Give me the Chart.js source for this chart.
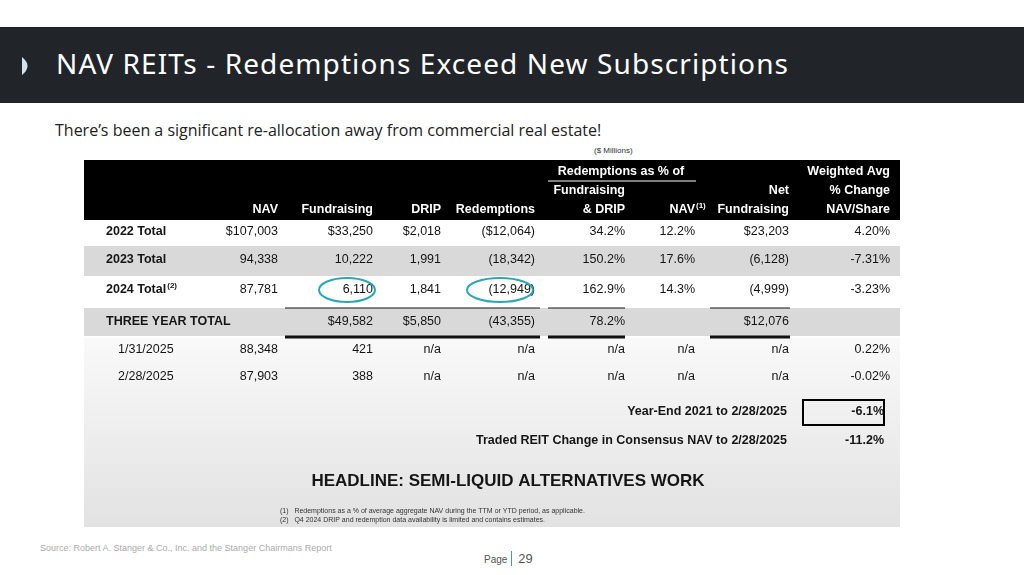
<!DOCTYPE html>
<html>
<head>
<meta charset="utf-8">
<script src="https://cdn.jsdelivr.net/npm/chart.js@4"></script>
<style>
  body { margin: 0; width: 1024px; height: 575px; background: #fff; position: relative; overflow: hidden; font-family: 'Open Sans', sans-serif; }
  #bar { position: absolute; left: 0; top: 27px; width: 1024px; height: 76px; background: #212529; }
  #title { position: absolute; left: 56px; top: 44px; color: #fff; font-size: 28px; font-family: 'Noto Sans', sans-serif; letter-spacing: 1.1px; }
  #sub { position: absolute; left: 55px; top: 119px; font-size: 16px; color: #222; }
  #mill { position: absolute; left: 594px; top: 146px; font-size: 8px; color: #333; font-family: 'Liberation Sans', sans-serif; }
  #wrap { position: absolute; left: 84px; top: 160px; width: 816px; height: 367px; }
  #src { position: absolute; left: 40px; top: 543px; font-size: 9px; color: #aaa; font-family: 'Liberation Sans', sans-serif; }
  #page { position: absolute; left: 484px; top: 551px; font-size: 10px; color: #555; font-family: 'Liberation Sans', sans-serif; }
  #page b { font-weight: normal; font-size: 13px; border-left: 1px solid #3a9fb0; padding-left: 6px; margin-left: 4px; }
</style>
</head>
<body>
<div id="bar"></div>
<svg style="position:absolute;left:21px;top:56px" width="12" height="20"><path d="M1 1 Q12 10 1 19 Z" fill="#cfe3f0"/></svg>
<div id="title">NAV REITs - Redemptions Exceed New Subscriptions</div>
<div id="sub">There’s been a significant re-allocation away from commercial real estate!</div>
<div id="mill">($ Millions)</div>
<div id="wrap"><canvas id="tbl" width="816" height="367"></canvas></div>
<div id="src">Source: Robert A. Stanger &amp; Co., Inc. and the Stanger Chairmans Report</div>
<div id="page">Page<b>29</b></div>
<script>
// table data
const rowLabels = ['2022 Total', '2023 Total', '2024 Total', 'THREE YEAR TOTAL', '1/31/2025', '2/28/2025'];
const nav = ['$107,003', '94,338', '87,781', '', '88,348', '87,903'];
const fundraising = ['$33,250', '10,222', '6,110', '$49,582', '421', '388'];
const drip = ['$2,018', '1,991', '1,841', '$5,850', 'n/a', 'n/a'];
const redemptions = ['($12,064)', '(18,342)', '(12,949)', '(43,355)', 'n/a', 'n/a'];
const redPctFundDrip = ['34.2%', '150.2%', '162.9%', '78.2%', 'n/a', 'n/a'];
const redPctNav = ['12.2%', '17.6%', '14.3%', '', 'n/a', 'n/a'];
const netFundraising = ['$23,203', '(6,128)', '(4,999)', '$12,076', 'n/a', 'n/a'];
const weightedAvg = ['4.20%', '-7.31%', '-3.23%', '', '0.22%', '-0.02%'];
const headers = [['', '', ''], ['', '', 'NAV'], ['', '', 'Fundraising'], ['', '', 'DRIP'], ['', '', 'Redemptions'],
  ['', 'Fundraising', '& DRIP'], ['', '', 'NAV'], ['', 'Net', 'Fundraising'], ['Weighted Avg', '% Change', 'NAV/Share']];
const summaryLabels = ['Year-End 2021 to 2/28/2025', 'Traded REIT Change in Consensus NAV to 2/28/2025'];
const summaryValues = ['-6.1%', '-11.2%'];
const headline = 'HEADLINE: SEMI-LIQUID ALTERNATIVES WORK';
const footnotes = ['(1)   Redemptions as a % of average aggregate NAV during the TTM or YTD period, as applicable.',
  '(2)   Q4 2024 DRIP and redemption data availability is limited and contains estimates.'];

const columns = [rowLabels, nav, fundraising, drip, redemptions, redPctFundDrip, redPctNav, netFundraising, weightedAvg];

// layout (canvas units)
const colRight = [22, 194, 289, 357, 451, 541, 611, 705, 806];
const rowY = [72, 100, 130, 162, 190, 217];
const headY = [12, 31, 50];

const points = [];
columns.forEach((col, c) => col.forEach((v, r) => points.push({ x: colRight[c], y: rowY[r], t: v, c: c, r: r })));

const FONT = "'Liberation Sans', Arial, sans-serif";

const tablePlugin = {
  id: 'tablePlugin',
  beforeDatasetsDraw(chart) {
    const { ctx, scales: { x, y } } = chart;
    const X = v => x.getPixelForValue(v), Y = v => y.getPixelForValue(v);
    ctx.save();
    const g = ctx.createLinearGradient(0, Y(178), 0, Y(367));
    g.addColorStop(0, '#f9f9f9'); g.addColorStop(1, '#e2e2e2');
    ctx.fillStyle = g; ctx.fillRect(X(0), Y(178), X(816) - X(0), Y(367) - Y(178));
    ctx.fillStyle = '#000'; ctx.fillRect(X(0), Y(0), X(816) - X(0), Y(60) - Y(0));
    ctx.fillStyle = '#d9d9d9';
    ctx.fillRect(X(0), Y(86), X(816) - X(0), Y(116) - Y(86));
    ctx.fillRect(X(0), Y(148), X(816) - X(0), Y(176) - Y(148));
    ctx.fillStyle = '#fff'; ctx.font = 'bold 12.5px ' + FONT; ctx.textBaseline = 'middle';
    headers.forEach((h, c) => h.forEach((t, i) => {
      if (!t) return;
      ctx.textAlign = 'right';
      ctx.fillText(t, X(colRight[c]), Y(headY[i]));
    }));
    ctx.font = 'bold 8px ' + FONT; ctx.textAlign = 'left';
    ctx.fillText('(1)', X(colRight[6]) + 1, Y(headY[2] - 4));
    ctx.font = 'bold 12.5px ' + FONT; ctx.textAlign = 'center';
    ctx.fillText('Redemptions as % of', X(537), Y(headY[0]));
    ctx.strokeStyle = '#fff'; ctx.lineWidth = 1;
    ctx.beginPath(); ctx.moveTo(X(464), Y(21)); ctx.lineTo(X(612), Y(21)); ctx.stroke();
    ctx.strokeStyle = '#111'; ctx.lineWidth = 3;
    [[201, 456], [464, 541], [626, 706]].forEach(([a, b]) => {
      ctx.beginPath(); ctx.moveTo(X(a), Y(177)); ctx.lineTo(X(b), Y(177)); ctx.stroke();
    });
    ctx.lineWidth = 1;
    [[201, 456], [464, 541], [626, 706]].forEach(([a, b]) => {
      ctx.beginPath(); ctx.moveTo(X(a), Y(148)); ctx.lineTo(X(b), Y(148)); ctx.stroke();
    });
    ctx.restore();
  },
  afterDatasetsDraw(chart) {
    const { ctx, scales: { x, y } } = chart;
    const X = v => x.getPixelForValue(v), Y = v => y.getPixelForValue(v);
    ctx.save();
    ctx.textBaseline = 'middle'; ctx.fillStyle = '#151515';
    points.forEach(p => {
      if (!p.t) return;
      if (p.c === 0) {
        ctx.textAlign = 'left';
        ctx.font = (p.r < 4 ? 'bold ' : '') + '12.5px ' + FONT;
        const px = p.r >= 4 ? X(p.x + 12) : X(p.x);
        ctx.fillText(p.t, px, Y(p.y));
        if (p.r === 2) {
          const w = ctx.measureText(p.t).width;
          ctx.font = 'bold 8px ' + FONT; ctx.fillText('(2)', px + w + 1, Y(p.y - 4));
        }
      } else {
        ctx.textAlign = 'right'; ctx.font = '12.5px ' + FONT;
        ctx.fillText(p.t, X(p.x), Y(p.y));
      }
    });
    ctx.strokeStyle = '#2aa6b8'; ctx.lineWidth = 2;
    [[263, 130, 28], [416, 130, 33]].forEach(([cx, cy, rx]) => {
      ctx.beginPath(); ctx.ellipse(X(cx), Y(cy), rx, 12, 0, 0, Math.PI * 2); ctx.stroke();
    });
    ctx.font = 'bold 12.5px ' + FONT;
    summaryLabels.forEach((t, i) => {
      ctx.textAlign = 'right'; ctx.fillText(t, X(703), Y(252 + i * 29));
      ctx.fillText(summaryValues[i], X(800), Y(252 + i * 29));
    });
    ctx.strokeStyle = '#000'; ctx.lineWidth = 2;
    ctx.strokeRect(X(719), Y(240), X(800) - X(719), Y(265) - Y(240));
    ctx.font = 'bold 17px ' + FONT; ctx.textAlign = 'center';
    ctx.fillText(headline, X(424), Y(321));
    ctx.font = '7px ' + FONT; ctx.textAlign = 'left'; ctx.fillStyle = '#333';
    footnotes.forEach((t, i) => ctx.fillText(t, X(196), Y(351 + i * 9)));
    ctx.restore();
  }
};

new Chart(document.getElementById('tbl'), {
  type: 'scatter',
  data: { datasets: [{ data: points, pointRadius: 0 }] },
  options: {
    responsive: false, animation: false,
    layout: { padding: 0 },
    plugins: { legend: { display: false }, tooltip: { enabled: false } },
    scales: {
      x: { type: 'linear', min: 0, max: 816, display: false },
      y: { type: 'linear', min: 0, max: 367, reverse: true, display: false }
    }
  },
  plugins: [tablePlugin]
});
</script>
</body>
</html>
